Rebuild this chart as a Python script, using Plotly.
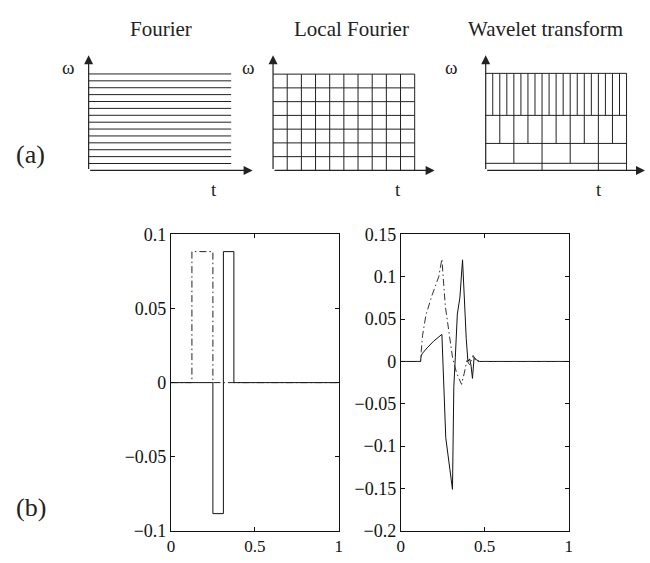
import plotly.graph_objects as go

W, H = 650, 563
FONT = "Liberation Serif"

# ---------------- data ----------------
panel_titles = ["Fourier", "Local Fourier", "Wavelet transform"]
fourier_lines = 14                      # horizontal frequency bands
lf_cols, lf_rows = 10, 7                # local Fourier tiling
wav_band_edges = [0.0, 0.073, 0.278, 0.567, 1.0]   # wavelet band boundaries (fraction of height)
wav_cell_width = [0.4, 0.2, 0.1, 0.05]             # cell width per band (bottom -> top)

# (b) left: box functions
left_dd_t = [0, 0.125, 0.125, 0.25, 0.25, 1.0]
left_dd_v = [0, 0, 0.0884, 0.0884, 0, 0]
left_s_t = [0, 0.25, 0.25, 0.3125, 0.3125, 0.375, 0.375, 1.0]
left_s_v = [0, 0, -0.0884, -0.0884, 0.0884, 0.0884, 0, 0]

# (b) right: responses
right_s_t = [0, 0.118, 0.121, 0.127, 0.157, 0.196, 0.245, 0.268, 0.308, 0.316, 0.325, 0.337,
             0.352, 0.368, 0.39, 0.40, 0.41, 0.418, 0.427, 0.437, 0.45, 0.47, 1.0]
right_s_v = [0, 0, 0.006, 0.009, 0.016, 0.024, 0.032, -0.09, -0.151, -0.03, 0.005, 0.056,
             0.075, 0.12, 0.027, 0.0, 0.003, -0.004, -0.02, 0.005, 0.002, 0, 0]
right_d_t = [0, 0.118, 0.122, 0.13, 0.15, 0.186, 0.226, 0.245, 0.265, 0.294, 0.308, 0.333,
             0.362, 0.378, 0.394, 0.41, 0.431, 0.45, 1.0]
right_d_v = [0, 0, 0.012, 0.031, 0.055, 0.078, 0.1, 0.121, 0.066, 0.024, 0.005, -0.014,
             -0.027, -0.014, 0.001, -0.004, 0.007, 0, 0]

left_yticks = [-0.1, -0.05, 0, 0.05, 0.1]
left_yticktext = ["\u22120.1", "\u22120.05", "0", "0.05", "0.1"]
right_yticks = [-0.2, -0.15, -0.1, -0.05, 0, 0.05, 0.1, 0.15]
right_yticktext = ["\u22120.2", "\u22120.15", "\u22120.1", "\u22120.05", "0", "0.05", "0.1", "0.15"]
xticks = [0, 0.5, 1]
xticktext = ["0", "0.5", "1"]

# ---------------- layout geometry (pixels) ----------------
panels = [  # x0, x1, ybot, ytop, xtip, ytip
    (85.7, 230.0, 166.3, 66.3, 251.7, 47.0),
    (272.4, 415.8, 166.3, 66.5, 436.0, 47.0),
    (487.7, 630.3, 166.3, 65.7, 649.0, 47.0),
]

fig = go.Figure()
layout = dict(
    width=W, height=H, margin=dict(l=0, r=0, t=0, b=0),
    paper_bgcolor="white", plot_bgcolor="white", showlegend=False,
    font=dict(family=FONT, color="#111"),
)
annotations = []

LINE = dict(color="#222", width=1)


def seg_trace(segs, xa, ya):
    xs, ys = [], []
    for (x0, y0, x1, y1) in segs:
        xs += [x0, x1, None]
        ys += [y0, y1, None]
    return go.Scatter(x=xs, y=ys, mode="lines", line=LINE, xaxis=xa, yaxis=ya,
                      hoverinfo="skip")


for i, (x0, x1, yb, yt, xt, ytp) in enumerate(panels):
    n = i + 3
    w = x1 - x0
    h = yb - yt
    pad = 0.03
    dx0 = x0 - pad * w
    dx1 = min(xt + 6, W)
    dy0 = yb + pad * h
    dy1 = max(ytp - 6, 0)
    layout[f"xaxis{n}"] = dict(domain=[dx0 / W, dx1 / W], range=[-pad, (dx1 - x0) / w],
                               visible=False, fixedrange=True)
    layout[f"yaxis{n}"] = dict(domain=[1 - dy0 / H, 1 - dy1 / H], range=[-pad, (yb - dy1) / h],
                               visible=False, fixedrange=True)
    xa, ya = f"x{n}", f"y{n}"
    segs = []
    if i == 0:
        for k in range(1, fourier_lines + 1):
            segs.append((0, k / fourier_lines, 1, k / fourier_lines))
    elif i == 1:
        for k in range(1, lf_rows + 1):
            segs.append((0, k / lf_rows, 1, k / lf_rows))
        for k in range(1, lf_cols + 1):
            segs.append((k / lf_cols, 0, k / lf_cols, 1))
    else:
        for e in wav_band_edges[1:]:
            segs.append((0, e, 1, e))
        for b, cw in enumerate(wav_cell_width):
            lo, hi = wav_band_edges[b], wav_band_edges[b + 1]
            m = 1
            while m * cw < 1.0 - 1e-9:
                segs.append((m * cw, lo, m * cw, hi))
                m += 1
        segs.append((1, 0, 1, 1))
    fig.add_trace(seg_trace(segs, xa, ya))
    # axes arrows
    for (tx, ty) in [((xt - x0) / w, 0), (0, (yb - ytp) / h)]:
        annotations.append(dict(x=tx, y=ty, ax=0, ay=0, xref=xa, yref=ya, axref=xa, ayref=ya,
                                text="", showarrow=True, arrowhead=2, arrowsize=1.5,
                                arrowwidth=1.2, arrowcolor="#222", standoff=0))

# panel titles and axis letters (paper positions)
title_pos = [(159, 20), (352, 20), (548.5, 20)]
for txt, (px, py) in zip(panel_titles, title_pos):
    annotations.append(dict(x=px / W, y=1 - py / H, xref="paper", yref="paper", text=txt,
                            showarrow=False, xanchor="center", yanchor="middle",
                            font=dict(family=FONT, size=21, color="#222")))
omega_pos = [(65, 60), (247.5, 60), (453, 60)]
t_pos = [(213, 186), (399, 186), (602, 186)]
for (px, py) in omega_pos:
    annotations.append(dict(x=px / W, y=1 - py / H, xref="paper", yref="paper", text="\u03c9",
                            showarrow=False, xanchor="center", yanchor="middle",
                            font=dict(family=FONT, size=19, color="#222")))
for (px, py) in t_pos:
    annotations.append(dict(x=px / W, y=1 - py / H, xref="paper", yref="paper", text="t",
                            showarrow=False, xanchor="center", yanchor="middle",
                            font=dict(family=FONT, size=19, color="#222")))
for txt, (px, py) in [("(a)", (27, 150)), ("(b)", (27, 516))]:
    annotations.append(dict(x=px / W, y=1 - py / H, xref="paper", yref="paper", text=txt,
                            showarrow=False, xanchor="center", yanchor="middle",
                            font=dict(family=FONT, size=26, color="#222")))

# ---------------- bottom plots ----------------
fig.add_trace(go.Scatter(x=left_s_t, y=left_s_v, mode="lines", line=dict(color="#111", width=1),
                         xaxis="x", yaxis="y"))
fig.add_trace(go.Scatter(x=left_dd_t, y=left_dd_v, mode="lines",
                         line=dict(color="#222", width=1, dash="7px,3px,1.5px,3px"),
                         xaxis="x", yaxis="y"))
fig.add_trace(go.Scatter(x=right_s_t, y=right_s_v, mode="lines", line=dict(color="#111", width=1),
                         xaxis="x2", yaxis="y2"))
fig.add_trace(go.Scatter(x=right_d_t, y=right_d_v, mode="lines",
                         line=dict(color="#333", width=1, dash="7px,3px,1.5px,3px"),
                         xaxis="x2", yaxis="y2"))

common = dict(showline=True, linecolor="#111", linewidth=1, mirror="ticks", ticks="inside",
              ticklen=4, tickcolor="#111", showgrid=False, zeroline=False, fixedrange=True)
yfont = dict(family=FONT, size=18, color="#111")
xfont = dict(family=FONT, size=17, color="#111")
yb0, yb1 = 1 - 540 / H, 1 - 232.7 / H
layout["xaxis"] = dict(domain=[169 / W, 339 / W], range=[0, 1], tickvals=xticks,
                       ticktext=xticktext, anchor="y", tickfont=xfont, **common)
layout["yaxis"] = dict(domain=[yb0, yb1], range=[-0.1, 0.1], tickvals=left_yticks,
                       ticktext=left_yticktext, anchor="x", tickfont=yfont, **common)
layout["xaxis2"] = dict(domain=[401.7 / W, 571.7 / W], range=[0, 1], tickvals=xticks,
                        ticktext=xticktext, anchor="y2", tickfont=xfont, **common)
layout["yaxis2"] = dict(domain=[yb0, yb1], range=[-0.2, 0.15], tickvals=right_yticks,
                        ticktext=right_yticktext, anchor="x2", tickfont=yfont, **common)
layout["annotations"] = annotations
fig.update_layout(**layout)

fig.write_html("out.html", config={"displayModeBar": False},
               post_script="document.body.style.margin='0';document.body.style.overflow='hidden';")
